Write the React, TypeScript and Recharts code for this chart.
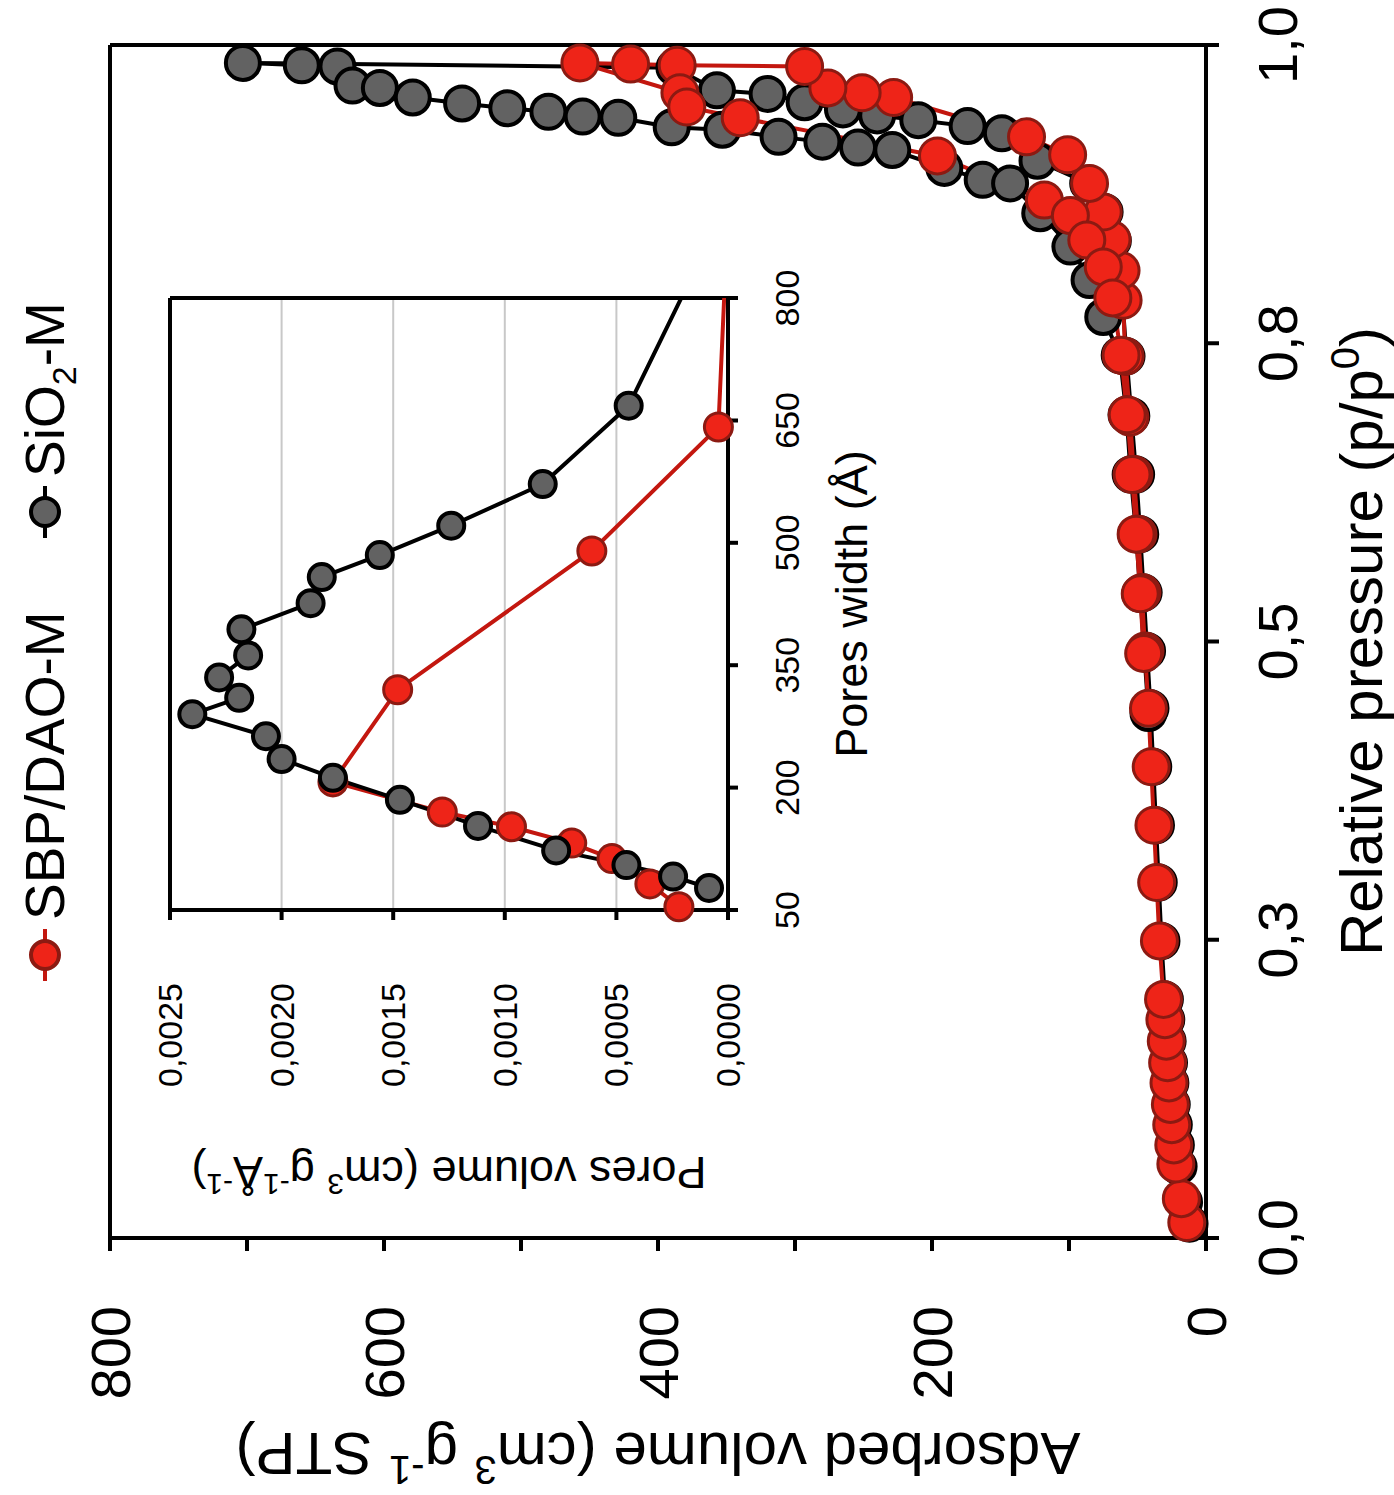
import React from 'react';
import { LineChart, Line, XAxis, YAxis, CartesianGrid, ReferenceLine } from 'recharts';

const FONT = '"Liberation Sans", Arial, Helvetica, sans-serif';
const RED = '#ee2418';
const RED_EDGE = '#8c1a12';
const RED_LINE = '#c3170f';
const GREY = '#626262';

// main chart: nitrogen isotherms
const pressureTicks = [0, 0.25, 0.5, 0.75, 1];
const pressureTickLabels = ['0,0', '0,3', '0,5', '0,8', '1,0'];
const volumeTicks = [0, 100, 200, 300, 400, 500, 600, 700, 800];
const volumeTickLabels = ['0', '', '200', '', '400', '', '600', '', '800'];

// SiO2-M: adsorption branch then desorption branch
const sio2Pressure = [
  0.012, 0.03, 0.06, 0.078, 0.095, 0.112, 0.13, 0.147, 0.165, 0.183, 0.2, 0.249, 0.298, 0.346, 0.395,
  0.444, 0.492, 0.541, 0.59, 0.64, 0.689, 0.739, 0.786, 0.812, 0.836, 0.86, 0.884, 0.903, 0.926, 0.932,
  0.937, 0.941, 0.946, 0.952, 0.959, 0.962, 0.981, 0.985,
  0.983, 0.982, 0.966, 0.964, 0.956, 0.951, 0.947, 0.944, 0.94, 0.939, 0.931, 0.929, 0.923, 0.919, 0.914,
  0.912, 0.897, 0.887, 0.884, 0.859, 0.831, 0.803, 0.772, 0.74, 0.69, 0.64, 0.59, 0.54, 0.49, 0.44,
];
const sio2Volume = [
  12, 16, 20, 22, 23.5, 25, 26, 27, 28, 29, 30, 32.5, 34.5, 36.5, 38.5,
  40.5, 43, 45.5, 48, 51, 54.5, 58, 61, 64, 68, 74, 86, 123, 149, 174,
  210, 240, 265, 293, 320, 357, 388, 703,
  660, 634, 623, 603, 579, 543, 510, 480, 455, 429, 390, 353, 312, 280, 254,
  229, 191, 163, 143, 121, 99, 85, 75, 63, 58, 55, 51, 48, 45, 42,
];

// SBP/DAO-M: adsorption branch then desorption branch
const sbpPressure = [
  0.013, 0.033, 0.062, 0.078, 0.095, 0.112, 0.13, 0.147, 0.165, 0.183, 0.2, 0.249, 0.298, 0.346, 0.395,
  0.444, 0.492, 0.541, 0.59, 0.64, 0.688, 0.739, 0.786, 0.811, 0.837, 0.86, 0.884, 0.908, 0.923, 0.956,
  0.96, 0.964, 0.982, 0.983, 0.984, 0.985,
  0.96, 0.948, 0.939, 0.907, 0.87, 0.857, 0.8365, 0.814, 0.788, 0.74, 0.69, 0.64, 0.59, 0.54, 0.49,
];
const sbpVolume = [
  14, 18, 22, 23.5, 25, 26, 27, 28, 29, 30, 31, 34, 36, 38, 40,
  42, 44.5, 46.7, 49.6, 52.6, 55.5, 59, 60.5, 62, 68.6, 75, 85, 101, 131, 228,
  251, 276, 293, 386, 420, 457,
  384, 379, 340, 196, 118, 99, 87, 75, 68, 62, 57.5, 54, 51, 48, 45.5,
];

// inset: pore size distribution
const poreWidthTicks = [50, 200, 350, 500, 650, 800];
const poreVolumeTicks = [0, 0.0005, 0.001, 0.0015, 0.002, 0.0025];
const poreVolumeTickLabels = ['0,0000', '0,0005', '0,0010', '0,0015', '0,0020', '0,0025'];
const poreGridLines = [0.0005, 0.001, 0.0015, 0.002];

const sio2PoreWidth = [77, 91, 105, 123, 153, 185, 212, 235, 263, 290, 310, 335, 362, 394, 426, 458, 485, 521, 572, 668, 850];
const sio2PoreVolume = [
  0.000085, 0.000246, 0.000455, 0.00077, 0.00112, 0.00147, 0.00177, 0.002, 0.00207, 0.0024, 0.00219,
  0.00228, 0.00215, 0.00218, 0.00187, 0.00182, 0.00156, 0.00124, 0.00083, 0.000445, 0.00012,
];
const sbpPoreWidth = [54, 82, 113, 132, 152, 170, 207, 320, 490, 642, 850];
const sbpPoreVolume = [0.00022, 0.00035, 0.00052, 0.0007, 0.00097, 0.00128, 0.00177, 0.00148, 0.00061, 0.000043, 0.000009];

// axis titles, [text, superscript?]
const pressureTitle: [string, boolean][] = [['Relative pressure (p/p', false], ['0', true], [')', false]];
const volumeTitle: [string, boolean][] = [
  ['Adsorbed volume (cm', false], ['3', true], [' g', false], ['-1', true], [' STP)', false],
];
const poreWidthTitle: [string, boolean][] = [['Pores width (Å)', false]];
const poreVolumeTitle: [string, boolean][] = [
  ['Pores volume (cm', false], ['3', true], [' g', false], ['-1', true], ['Å', false], ['-1', true], [')', false],
];

const sio2Data = sio2Pressure.map((p, i) => ({ p, v: sio2Volume[i] }));
const sbpData = sbpPressure.map((p, i) => ({ p, v: sbpVolume[i] }));
const sio2Pores = sio2PoreWidth.map((w, i) => ({ w, pv: sio2PoreVolume[i] }));
const sbpPores = sbpPoreWidth.map((w, i) => ({ w, pv: sbpPoreVolume[i] }));

const axisStyle = { stroke: '#000', strokeWidth: 4 };

// tspans with raised superscripts
const richText = (parts: [string, boolean][], size: number) => {
  const shift = Math.round(size * 0.38);
  let raised = false;
  return parts.map(([t, sup], i) => {
    let dy = 0;
    if (sup && !raised) dy = -shift;
    if (!sup && raised) dy = shift;
    raised = sup;
    return (
      <tspan key={i} dy={dy} fontSize={sup ? Math.round(size * 0.66) : size}>
        {t}
      </tspan>
    );
  });
};

const pressureLabel = (props: any) => {
  const vb = props.viewBox || { x: 257, y: 1206, width: 1193, height: 188 };
  return (
    <text x={vb.x + vb.width / 2} y={vb.y + 176} textAnchor="middle" fontSize={60} fontFamily={FONT} fill="#000">
      {richText(pressureTitle, 60)}
    </text>
  );
};

const volumeLabel = (props: any) => {
  const vb = props.viewBox || { x: 0, y: 110, width: 257, height: 1096 };
  const cy = vb.y + vb.height / 2;
  const x = 62;
  return (
    <text x={x} y={cy} transform={`rotate(-90 ${x} ${cy})`} textAnchor="middle" fontSize={60} fontFamily={FONT} fill="#000">
      {richText(volumeTitle, 60)}
    </text>
  );
};

const poreWidthLabel = (props: any) => {
  const vb = props.viewBox || { x: 385, y: 628, width: 612, height: 172 };
  return (
    <text x={vb.x + vb.width / 2} y={vb.y + 139} textAnchor="middle" fontSize={45} fontFamily={FONT} fill="#000">
      {richText(poreWidthTitle, 45)}
    </text>
  );
};

const poreVolumeLabel = (props: any) => {
  const vb = props.viewBox || { x: 0, y: 70, width: 385, height: 558 };
  const cy = vb.y + vb.height / 2;
  const x = 138;
  return (
    <text x={x} y={cy} transform={`rotate(-90 ${x} ${cy})`} textAnchor="middle" fontSize={45} fontFamily={FONT} fill="#000">
      {richText(poreVolumeTitle, 45)}
    </text>
  );
};

// only every second volume tick carries a number
const volumeTick = (props: any) => {
  const label = volumeTickLabels[props.index];
  if (!label) return <g />;
  return (
    <text x={props.x} y={props.y} dy="0.355em" textAnchor="end" fontSize={56} fontFamily={FONT} fill="#000">
      {label}
    </text>
  );
};

const LegendItem = ({ left, fill, edge, line, children }: any) => (
  <div style={{ position: 'absolute', left, top: 20, height: 50, display: 'flex', alignItems: 'center' }}>
    <svg width={56} height={50}>
      <line x1={2} y1={25} x2={54} y2={25} stroke={line} strokeWidth={4} />
      <circle cx={28} cy={25} r={14} fill={fill} stroke={edge} strokeWidth={4} />
    </svg>
    <span style={{ marginLeft: 7, fontSize: 55, lineHeight: '50px', fontFamily: FONT, color: '#000', whiteSpace: 'nowrap' }}>
      {children}
    </span>
  </div>
);

const MainChart = () => (
  <LineChart width={1495} height={1394} margin={{ top: 110, right: 45, bottom: 0, left: 0 }}>
    <XAxis
      type="number"
      dataKey="p"
      domain={[0, 1]}
      ticks={pressureTicks}
      interval={0}
      tickFormatter={(_v: number, i: number) => pressureTickLabels[i]}
      height={188}
      tickSize={13}
      tickMargin={38}
      axisLine={axisStyle}
      tickLine={axisStyle}
      tick={{ fontSize: 56, fill: '#000', fontFamily: FONT }}
      label={pressureLabel}
    />
    <YAxis
      type="number"
      domain={[0, 800]}
      ticks={volumeTicks}
      interval={0}
      width={257}
      tickSize={13}
      tickMargin={55}
      axisLine={axisStyle}
      tickLine={axisStyle}
      tick={volumeTick}
      label={volumeLabel}
    />
    <ReferenceLine y={800} stroke="#000" strokeWidth={4} />
    <ReferenceLine x={1} stroke="#000" strokeWidth={4} />
    <Line
      data={sio2Data}
      dataKey="v"
      stroke="#000"
      strokeWidth={4}
      dot={{ r: 17, fill: GREY, stroke: '#000', strokeWidth: 4 }}
      activeDot={false}
      isAnimationActive={false}
    />
    <Line
      data={sbpData}
      dataKey="v"
      stroke={RED_LINE}
      strokeWidth={4}
      dot={{ r: 18, fill: RED, stroke: RED_EDGE, strokeWidth: 3 }}
      activeDot={false}
      isAnimationActive={false}
    />
  </LineChart>
);

const InsetChart = () => (
  <LineChart width={1040} height={800} margin={{ top: 70, right: 43, bottom: 0, left: 0 }}>
    <CartesianGrid vertical={false} horizontalValues={poreGridLines} stroke="#c8c8c8" strokeWidth={2} />
    <XAxis
      type="number"
      dataKey="w"
      domain={[50, 800]}
      ticks={poreWidthTicks}
      interval={0}
      allowDataOverflow
      height={172}
      tickSize={10}
      tickMargin={37}
      axisLine={axisStyle}
      tickLine={axisStyle}
      tick={{ fontSize: 34, fill: '#000', fontFamily: FONT }}
      label={poreWidthLabel}
    />
    <YAxis
      type="number"
      domain={[0, 0.0025]}
      ticks={poreVolumeTicks}
      interval={0}
      allowDataOverflow
      tickFormatter={(_v: number, i: number) => poreVolumeTickLabels[i]}
      width={385}
      tickSize={10}
      tickMargin={63}
      axisLine={axisStyle}
      tickLine={axisStyle}
      tick={{ fontSize: 34, fill: '#000', fontFamily: FONT }}
      label={poreVolumeLabel}
    />
    <ReferenceLine y={0.0025} stroke="#000" strokeWidth={4} />
    <ReferenceLine x={800} stroke="#000" strokeWidth={4} />
    <Line
      data={sbpPores}
      dataKey="pv"
      stroke={RED_LINE}
      strokeWidth={4}
      dot={{ r: 14, fill: RED, stroke: RED_EDGE, strokeWidth: 3, clipDot: false }}
      activeDot={false}
      isAnimationActive={false}
    />
    <Line
      data={sio2Pores}
      dataKey="pv"
      stroke="#000"
      strokeWidth={4}
      dot={{ r: 13, fill: GREY, stroke: '#000', strokeWidth: 4, clipDot: false }}
      activeDot={false}
      isAnimationActive={false}
    />
  </LineChart>
);

export default function App() {
  return (
    <div style={{ position: 'absolute', left: 0, top: 0, width: 1394, height: 1495, overflow: 'hidden', background: '#fff' }}>
      {/* the figure is printed turned a quarter turn anticlockwise */}
      <div
        style={{
          position: 'absolute',
          left: 0,
          top: 0,
          width: 1495,
          height: 1394,
          transformOrigin: '0 0',
          transform: 'translate(0px, 1495px) rotate(-90deg)',
        }}
      >
        <MainChart />
        <div style={{ position: 'absolute', left: 200, top: 100 }}>
          <InsetChart />
        </div>
        <LegendItem left={512} fill={RED} edge={RED_EDGE} line={RED_LINE}>SBP/DAO-M</LegendItem>
        <LegendItem left={955} fill={GREY} edge="#000" line="#000">
          SiO<sub style={{ fontSize: '0.62em', lineHeight: 0 }}>2</sub>-M
        </LegendItem>
      </div>
    </div>
  );
}
